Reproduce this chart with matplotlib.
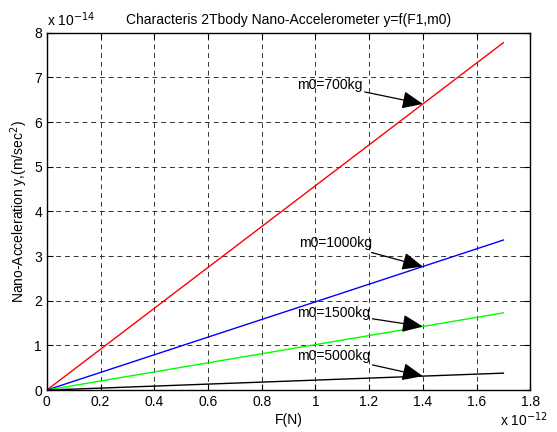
import matplotlib.pyplot as plt
from matplotlib.ticker import FuncFormatter, MultipleLocator

plt.rcParams['font.family'] = ['Liberation Sans', 'DejaVu Sans']

# force range (N) and the resulting nano-acceleration for each test mass
F = [0.0, 1.7e-12]
masses = ['700', '1000', '1500', '5000']
acc_700 = [0.0, 7.78e-14]
acc_1000 = [0.0, 3.36e-14]
acc_1500 = [0.0, 1.73e-14]
acc_5000 = [0.0, 0.38e-14]
series = [acc_700, acc_1000, acc_1500, acc_5000]
colors = ['#ff0000', '#0000ff', '#00ff00', '#000000']

# arrow targets at F = 1.4e-12 and where the labels sit
F_mark = 1.4e-12
label_pos = [(0.93e-12, 6.84e-14), (0.94e-12, 3.30e-14),
             (0.93e-12, 1.73e-14), (0.93e-12, 0.76e-14)]

fs = 10

fig = plt.figure(figsize=(5.57, 4.32), dpi=100)
ax = fig.add_axes([0.084, 0.097, 0.868, 0.827])

for acc, c in zip(series, colors):
    ax.plot(F, acc, color=c, lw=1)

for m, acc, pos in zip(masses, series, label_pos):
    y_mark = acc[0] + (acc[1] - acc[0]) * (F_mark - F[0]) / (F[1] - F[0])
    ax.annotate('m0=%skg' % m, xy=(F_mark, y_mark), xytext=pos,
                ha='left', va='center', fontsize=fs,
                arrowprops=dict(arrowstyle='-|>,head_length=0.7,head_width=0.3',
                                color='k', lw=0.9, mutation_scale=18,
                                shrinkA=0, shrinkB=0))

ax.set_xlim(0, 1.8e-12)
ax.set_ylim(0, 8e-14)
ax.xaxis.set_major_locator(MultipleLocator(0.2e-12))
ax.yaxis.set_major_locator(MultipleLocator(1e-14))
ax.xaxis.set_major_formatter(FuncFormatter(lambda v, p: '%g' % round(v / 1e-12, 6)))
ax.yaxis.set_major_formatter(FuncFormatter(lambda v, p: '%g' % round(v / 1e-14, 6)))
ax.tick_params(direction='in', top=True, right=True, length=4, labelsize=fs, width=0.8)
ax.grid(True, color='#333333', linestyle=(0, (5, 4)), lw=0.7)
for s in ax.spines.values():
    s.set_linewidth(1.0)

ax.text(0.0, 1.01, 'x 10$^{-14}$', transform=ax.transAxes, fontsize=fs,
        ha='left', va='bottom')
fig.text(0.94, 0.008, 'x 10$^{-12}$', fontsize=fs, ha='center', va='bottom')

ax.set_title('Characteris 2Tbody Nano-Accelerometer y=f(F1,m0)', fontsize=fs, pad=6)
ax.set_xlabel('F(N)', fontsize=fs, labelpad=3)
ax.set_ylabel('Nano-Acceleration y,(m/sec$^2$)', fontsize=fs, labelpad=3)

fig.savefig('out.png', dpi=100)
